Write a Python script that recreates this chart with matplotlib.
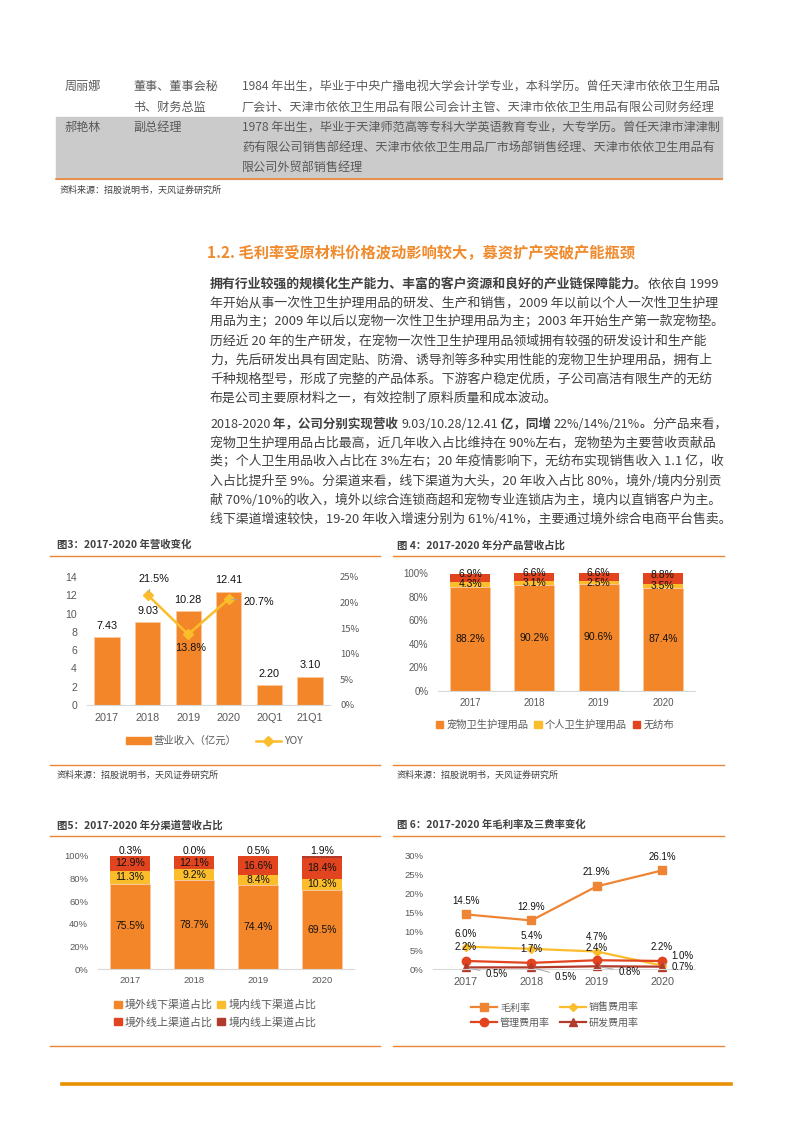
import matplotlib
matplotlib.use('Agg')
import matplotlib.pyplot as plt
from matplotlib.lines import Line2D
from matplotlib.patches import Patch, Rectangle
from matplotlib.ticker import FuncFormatter
import numpy as np

plt.rcParams['font.family'] = ['Noto Sans CJK SC', 'DejaVu Sans']

W, H = 793, 1122

# ---- data ----
rev_cats = ['2017', '2018', '2019', '2020', '20Q1', '21Q1']
rev_vals = [7.43, 9.03, 10.28, 12.41, 2.20, 3.10]
yoy_cats = ['2018', '2019', '2020']
yoy_vals = [21.5, 13.8, 20.7]

years = ['2017', '2018', '2019', '2020']
prod_pet = [88.2, 90.2, 90.6, 87.4]
prod_personal = [4.3, 3.1, 2.5, 3.5]
prod_nonwoven = [6.9, 6.6, 6.6, 8.8]

ch_abroad_off = [75.5, 78.7, 74.4, 69.5]
ch_home_off = [11.3, 9.2, 8.4, 10.3]
ch_abroad_on = [12.9, 12.1, 16.6, 18.4]
ch_home_on = [0.3, 0.0, 0.5, 1.9]

gross_margin = [14.5, 12.9, 21.9, 26.1]
sales_rate = [6.0, 5.4, 4.7, 1.0]
admin_rate = [2.2, 1.7, 2.4, 2.2]
rd_rate = [0.5, 0.5, 0.8, 0.7]

# ---- colours ----
ORANGE = '#F4862A'
YELLOW = '#FBBD2C'
RED = '#E1441F'
DRED = '#B23A2A'
LINE_OR = '#EE8535'
TXT = '#404040'
TICK = '#595959'
NUM = ['Liberation Sans', 'Noto Sans CJK SC']

fig = plt.figure(figsize=(W / 100, H / 100), dpi=100)
renderer = fig.canvas.get_renderer()


def fy(y):
    return 1 - y / H


def ftext(x, y, s, **kw):
    kw.setdefault('va', 'center')
    return fig.text(x / W, fy(y), s, **kw)


def hline(x1, x2, y, color=LINE_OR, lw=1.0):
    fig.add_artist(Line2D([x1 / W, x2 / W], [fy(y), fy(y)], color=color, lw=lw))


def axes_px(left, top, right, bottom):
    return fig.add_axes([left / W, fy(bottom), (right - left) / W, (bottom - top) / H])


def segments(x, y, parts, size=9, color=TXT):
    # draw text pieces one after another on the same line
    for s, w in parts:
        t = ftext(x, y, s, fontsize=size, color=color, fontweight=w)
        x += t.get_window_extent(renderer).width


def style_axes(ax):
    for sp in ['top', 'right', 'left']:
        ax.spines[sp].set_visible(False)
    ax.spines['bottom'].set_color('#D9D9D9')
    ax.tick_params(length=0, colors=TICK)


# ---- table at top ----
fig.patches.append(Rectangle((55.7 / W, fy(179)), (722 - 55.7) / W, (179 - 117.3) / H,
                             transform=fig.transFigure, color='#CBCBCC', zorder=0))
hline(55.7, 722, 179, lw=1.2)
tsz = 8.7
ftext(65, 86, '周丽娜', fontsize=tsz, color=TICK)
ftext(133, 86, '董事、董事会秘', fontsize=tsz, color=TICK)
ftext(133, 107, '书、财务总监', fontsize=tsz, color=TICK)
ftext(242, 86, '1984 年出生，毕业于中央广播电视大学会计学专业，本科学历。曾任天津市依依卫生用品', fontsize=tsz, color=TICK)
ftext(242, 107, '厂会计、天津市依依卫生用品有限公司会计主管、天津市依依卫生用品有限公司财务经理', fontsize=tsz, color=TICK)
ftext(65, 127, '郝艳林', fontsize=tsz, color=TICK)
ftext(133, 127, '副总经理', fontsize=tsz, color=TICK)
ftext(242, 127, '1978 年出生，毕业于天津师范高等专科大学英语教育专业，大专学历。曾任天津市津津制', fontsize=tsz, color=TICK)
ftext(242, 147, '药有限公司销售部经理、天津市依依卫生用品厂市场部销售经理、天津市依依卫生用品有', fontsize=tsz, color=TICK)
ftext(242, 167, '限公司外贸部销售经理', fontsize=tsz, color=TICK)
ftext(60, 190, '资料来源：招股说明书，天风证券研究所', fontsize=6.5, color=TXT)

# ---- section text ----
ftext(207, 253, '1.2. 毛利率受原材料价格波动影响较大，募资扩产突破产能瓶颈',
      fontsize=11, color='#F08A2C', fontweight='bold')

bsz = 9.3
segments(210, 284, [('拥有行业较强的规模化生产能力、丰富的客户资源和良好的产业链保障能力。', 'bold'),
                    ('依依自 1999', 'normal')], bsz)
p1 = ['年开始从事一次性卫生护理用品的研发、生产和销售，2009 年以前以个人一次性卫生护理',
      '用品为主；2009 年以后以宠物一次性卫生护理用品为主；2003 年开始生产第一款宠物垫。',
      '历经近 20 年的生产研发，在宠物一次性卫生护理用品领域拥有较强的研发设计和生产能',
      '力，先后研发出具有固定贴、防滑、诱导剂等多种实用性能的宠物卫生护理用品，拥有上',
      '千种规格型号，形成了完整的产品体系。下游客户稳定优质，子公司高洁有限生产的无纺',
      '布是公司主要原材料之一，有效控制了原料质量和成本波动。']
for i, s in enumerate(p1):
    ftext(210, 303 + 19 * i, s, fontsize=bsz, color=TXT)

segments(210, 424, [('2018-2020', 'normal'), (' 年，公司分别实现营收 ', 'bold'),
                    ('9.03/10.28/12.41', 'normal'), (' 亿，同增 ', 'bold'),
                    ('22%/14%/21%', 'normal'), ('。', 'bold'),
                    ('分产品来看，', 'normal')], 9.0)
p2 = ['宠物卫生护理用品占比最高，近几年收入占比维持在 90%左右，宠物垫为主要营收贡献品',
      '类；个人卫生用品收入占比在 3%左右；20 年疫情影响下，无纺布实现销售收入 1.1 亿，收',
      '入占比提升至 9%。分渠道来看，线下渠道为大头，20 年收入占比 80%，境外/境内分别贡',
      '献 70%/10%的收入，境外以综合连锁商超和宠物专业连锁店为主，境内以直销客户为主。',
      '线下渠道增速较快，19-20 年收入增速分别为 61%/41%，主要通过境外综合电商平台售卖。']
for i, s in enumerate(p2):
    ftext(210, 443 + 19 * i, s, fontsize=bsz, color=TXT)

# ---- chart titles / frame lines ----
csz = 7.5
ftext(57, 545, '图3：2017-2020 年营收变化', fontsize=csz, color=TXT, fontweight='bold')
ftext(397, 545, '图 4：2017-2020 年分产品营收占比', fontsize=csz, color=TXT, fontweight='bold')
ftext(57, 825, '图5：2017-2020 年分渠道营收占比', fontsize=csz, color=TXT, fontweight='bold')
ftext(397, 825, '图 6：2017-2020 年毛利率及三费率变化', fontsize=csz, color=TXT, fontweight='bold')
for y in (556, 765, 836, 1045.5):
    hline(50, 380, y)
    hline(393, 724, y)
ftext(57, 775, '资料来源：招股说明书，天风证券研究所', fontsize=6.5, color=TXT)
ftext(397, 775, '资料来源：招股说明书，天风证券研究所', fontsize=6.5, color=TXT)
hline(62, 731, 1084, color='#E69100', lw=2.6)

pct = FuncFormatter(lambda v, p: f'{v:.0f}%')

# ---- chart 3: revenue ----
ax3 = axes_px(86.7, 577, 330.3, 705)
x3 = np.arange(len(rev_cats))
ax3.bar(x3, rev_vals, width=0.62, color=ORANGE, edgecolor='#F8C9A0', linewidth=0.6)
ax3.set_xlim(-0.5, len(rev_cats) - 0.5)
ax3.set_ylim(0, 14)
ax3.set_yticks(range(0, 15, 2))
ax3.set_xticks(x3)
ax3.set_xticklabels(rev_cats, family=NUM, fontsize=7.8)
for lb in ax3.get_yticklabels():
    lb.set_family(NUM)
    lb.set_fontsize(7.6)
style_axes(ax3)
ax3.tick_params(axis='y', pad=7)
ax3.tick_params(axis='x', pad=5.5)
for i, v in enumerate(rev_vals):
    ax3.annotate(f'{v:.2f}', (i, v), xytext=(0, 4.5), textcoords='offset points',
                 ha='center', va='bottom', fontsize=7.8, family=NUM, color='#111111')
ax3r = ax3.twinx()
ax3r.set_ylim(0, 25)
ax3r.set_yticks(range(0, 30, 5))
ax3r.yaxis.set_major_formatter(pct)
style_axes(ax3r)
ax3r.spines['bottom'].set_visible(False)
ax3r.tick_params(axis='y', pad=7, labelsize=6.8)
xy = [rev_cats.index(c) for c in yoy_cats]
ax3r.plot(xy, yoy_vals, color=YELLOW, lw=1.8, marker='D', ms=5, zorder=3)
offs3 = [(4.5, 11.5, True), (1.5, -9.5, False), (21.5, -2, True)]
for xi, v, (dx, dy, lead) in zip(xy, yoy_vals, offs3):
    ax3r.annotate(f'{v:.1f}%', (xi, v), xytext=(dx, dy), textcoords='offset points',
                  ha='center', va='center', fontsize=7.8, family=NUM, color='#111111',
                  arrowprops=dict(arrowstyle='-', color='#A6A6A6', lw=0.7) if lead else None)
ax3.legend([Patch(color=ORANGE), Line2D([], [], color=YELLOW, lw=1.8, marker='D', ms=5)],
           ['营业收入（亿元）', 'YOY'], loc='center', bbox_to_anchor=(214 / W, fy(741)),
           bbox_transform=fig.transFigure, ncol=2, frameon=False, fontsize=7.5,
           handlelength=2.4, handleheight=0.6, handletextpad=0.3, columnspacing=1.8,
           labelcolor=TICK)

# ---- chart 4: product mix ----
ax4 = axes_px(438, 573, 695, 690.7)
x4 = np.arange(len(years))
b1 = np.array(prod_pet)
b2 = b1 + np.array(prod_personal)
ax4.bar(x4, prod_pet, width=0.62, color=ORANGE, edgecolor='#F8C9A0', linewidth=0.5)
ax4.bar(x4, prod_personal, bottom=b1, width=0.62, color=YELLOW, linewidth=0)
ax4.bar(x4, prod_nonwoven, bottom=b2, width=0.62, color=RED, linewidth=0)
ax4.set_xlim(-0.5, 3.5)
ax4.set_ylim(0, 100)
ax4.set_yticks(range(0, 101, 20))
ax4.yaxis.set_major_formatter(pct)
ax4.set_xticks(x4)
ax4.set_xticklabels(years)
style_axes(ax4)
for lb in ax4.get_xticklabels() + ax4.get_yticklabels():
    lb.set_family(NUM)
    lb.set_fontsize(7)
ax4.tick_params(axis='y', pad=7)
ax4.tick_params(axis='x', pad=5)
lk = dict(ha='center', va='center', fontsize=7.5, family=NUM, color='#111111')
for i in range(len(years)):
    ax4.text(i, prod_pet[i] / 2, f'{prod_pet[i]:.1f}%', **lk)
    ax4.text(i, b1[i] + prod_personal[i] / 2, f'{prod_personal[i]:.1f}%', **lk)
    ax4.text(i, b2[i] + 7, f'{prod_nonwoven[i]:.1f}%', **lk)
ax4.legend([Patch(color=ORANGE), Patch(color=YELLOW), Patch(color=RED)],
           ['宠物卫生护理用品', '个人卫生护理用品', '无纺布'], loc='center',
           bbox_to_anchor=(555 / W, fy(725)), bbox_transform=fig.transFigure, ncol=3,
           frameon=False, fontsize=7.4, handlelength=0.7, handleheight=0.7,
           handletextpad=0.3, columnspacing=0.6, labelcolor=TICK)

# ---- chart 5: channel mix ----
ax5 = axes_px(98, 855.7, 354, 969.3)
c1 = np.array(ch_abroad_off)
c2 = c1 + np.array(ch_home_off)
c3 = c2 + np.array(ch_abroad_on)
ax5.bar(x4, ch_abroad_off, width=0.62, color=ORANGE, edgecolor='#F8C9A0', linewidth=0.5)
ax5.bar(x4, ch_home_off, bottom=c1, width=0.62, color=YELLOW, linewidth=0)
ax5.bar(x4, ch_abroad_on, bottom=c2, width=0.62, color=RED, linewidth=0)
ax5.bar(x4, ch_home_on, bottom=c3, width=0.62, color=DRED, linewidth=0)
ax5.set_xlim(-0.5, 3.5)
ax5.set_ylim(0, 100)
ax5.set_yticks(range(0, 101, 20))
ax5.yaxis.set_major_formatter(pct)
ax5.set_xticks(x4)
ax5.set_xticklabels(years)
style_axes(ax5)
for lb in ax5.get_xticklabels() + ax5.get_yticklabels():
    lb.set_family(NUM)
    lb.set_fontsize(6.8)
ax5.tick_params(axis='y', pad=7)
ax5.tick_params(axis='x', pad=5)
for i in range(len(years)):
    ax5.text(i, ch_abroad_off[i] / 2, f'{ch_abroad_off[i]:.1f}%', **lk)
    ax5.text(i, c1[i] + ch_home_off[i] / 2, f'{ch_home_off[i]:.1f}%', **lk)
    ax5.text(i, c2[i] + ch_abroad_on[i] / 2, f'{ch_abroad_on[i]:.1f}%', **lk)
    ax5.text(i, 104.4, f'{ch_home_on[i]:.1f}%', **lk)
hs = [Patch(color=ORANGE), Patch(color=RED), Patch(color=YELLOW), Patch(color=DRED)]
ax5.legend(hs, ['境外线下渠道占比', '境外线上渠道占比', '境内线下渠道占比', '境内线上渠道占比'],
           loc='center', bbox_to_anchor=(215 / W, fy(1013.5)), bbox_transform=fig.transFigure,
           ncol=2, frameon=False, fontsize=7.9, handlelength=0.7, handleheight=0.7,
           handletextpad=0.3, columnspacing=0.4, labelspacing=0.6, labelcolor=TICK)

# ---- chart 6: margins ----
ax6 = axes_px(433.3, 855.7, 694.7, 969.3)
ax6.set_xlim(-0.5, 3.5)
ax6.set_ylim(0, 30)
ax6.set_yticks(range(0, 31, 5))
ax6.yaxis.set_major_formatter(pct)
ax6.set_xticks(x4)
ax6.set_xticklabels(years)
style_axes(ax6)
for lb in ax6.get_yticklabels():
    lb.set_family(NUM)
    lb.set_fontsize(6.8)
for lb in ax6.get_xticklabels():
    lb.set_family(NUM)
    lb.set_fontsize(7.8)
ax6.tick_params(axis='y', pad=7)
ax6.tick_params(axis='x', pad=5.5)
series6 = [
    (gross_margin, LINE_OR, 's', 5.5, '毛利率'),
    (sales_rate, YELLOW, 'D', 4, '销售费用率'),
    (admin_rate, RED, 'o', 6, '管理费用率'),
    (rd_rate, DRED, '^', 5.5, '研发费用率'),
]
handles6 = []
for vals, col, mk, ms, name in series6:
    ln, = ax6.plot(x4, vals, color=col, lw=1.6, marker=mk, ms=ms, label=name, clip_on=False)
    handles6.append(ln)
lbl6 = dict(fontsize=7, family=NUM, color='#111111', ha='center', va='center')
lead = dict(arrowstyle='-', color='#A6A6A6', lw=0.7)
for i in range(4):
    ax6.annotate(f'{gross_margin[i]:.1f}%', (i, gross_margin[i]), xytext=(0, 10),
                 textcoords='offset points', **lbl6)
admin_dy = [10, 10, 8.5, 10]
for i in range(4):
    ax6.annotate(f'{admin_rate[i]:.1f}%', (i, admin_rate[i]), xytext=(0, admin_dy[i]),
                 textcoords='offset points', **lbl6)
sales_dy = [9, 9, 10.5]
for i in range(3):
    ax6.annotate(f'{sales_rate[i]:.1f}%', (i, sales_rate[i]), xytext=(0, sales_dy[i]),
                 textcoords='offset points', **lbl6)
ax6.annotate(f'{sales_rate[3]:.1f}%', (3, sales_rate[3]), xytext=(15, 7),
             textcoords='offset points', arrowprops=lead, **lbl6)
offs6 = [(22, -4.8), (25, -6.7), (24, -4.2), (15, 0)]
for i, (dx, dy) in enumerate(offs6):
    ax6.annotate(f'{rd_rate[i]:.1f}%', (i, rd_rate[i]), xytext=(dx, dy),
                 textcoords='offset points', arrowprops=lead if i < 3 else None, **lbl6)
ax6.legend([handles6[0], handles6[2], handles6[1], handles6[3]],
           ['毛利率', '管理费用率', '销售费用率', '研发费用率'], loc='center',
           bbox_to_anchor=(555 / W, fy(1015)), bbox_transform=fig.transFigure, ncol=2,
           frameon=False, fontsize=7.2, handlelength=2.6, handletextpad=0.3,
           columnspacing=1.0, labelspacing=0.5, labelcolor=TICK)

fig.savefig('out.png', dpi=100)
